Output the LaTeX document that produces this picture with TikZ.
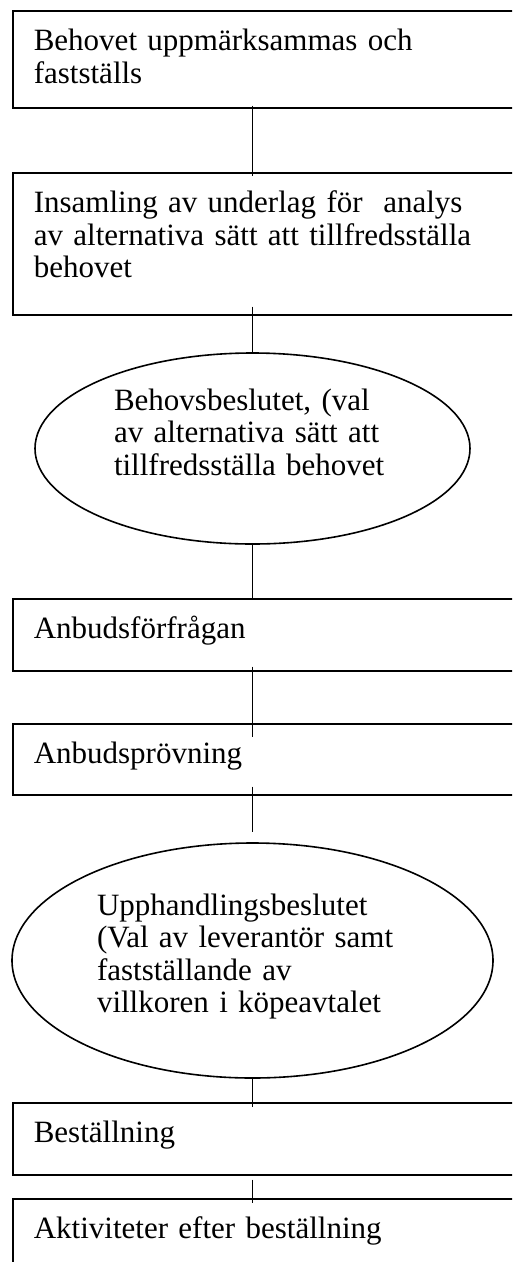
\documentclass[tikz,border=0pt]{standalone}
\usepackage{fontspec}
\setmainfont{Liberation Serif}
\usetikzlibrary{shapes.geometric}

\begin{document}
\begin{tikzpicture}[
  x=1pt, y=-1pt,
  every node/.style={font=\fontsize{31}{32.5}\selectfont},
  box/.style={draw, line width=1.6pt, anchor=north west, text width=470pt, align=left,
    inner xsep=21pt, inner ysep=0pt, text height=40pt},
  decision/.style={draw, line width=1.6pt, ellipse, align=left, inner sep=0pt, text height=25pt},
  link/.style={line width=1.6pt}
]
\useasboundingbox (0,0) rectangle (512,1262);
\clip (0,0) rectangle (512,1262);

% steps of the procurement
\node[box, text depth=57pt] (need) at (12,10) {Behovet uppmärksammas och\\fastställs};
\node[box, text depth=102pt] (collect) at (12,172) {Insamling av underlag för\ \ analys\\av alternativa sätt att tillfredsställa\\behovet};
\node[decision, text width=277pt, text depth=102pt, minimum width=435pt, minimum height=191pt] (needdec) at (252.5,448.5)
  {Behovsbeslutet, (val\\av alternativa sätt att\\tillfredsställa behovet};
\node[box, text depth=32pt] (inquiry) at (12,598) {Anbudsförfrågan};
\node[box, text depth=31pt] (review) at (12,723) {Anbudsprövning};
\node[decision, text width=311pt, text depth=116pt, minimum width=481pt, minimum height=235pt] (buydec) at (252.5,960.5)
  {Upphandlingsbeslutet\\(Val av leverantör samt\\fastställande av\\villkoren i köpeavtalet};
\node[box, text depth=32pt] (order) at (12,1102) {Beställning};
\node[box, text depth=120pt] (after) at (12,1198) {Aktiviteter efter beställning};

% connectors
\draw[link, shorten <=-3pt, shorten >=-4pt] (need.south -| needdec) -- (collect.north -| needdec);
\draw[link, shorten <=-9pt] (collect.south -| needdec) -- (needdec.north);
\draw[link] (needdec.south) -- (inquiry.north -| needdec);
\draw[link, shorten <=-5pt, shorten >=-14pt] (inquiry.south -| needdec) -- (review.north -| needdec);
\draw[link, shorten <=-9pt, shorten >=10pt] (review.south -| buydec) -- (buydec.north);
\draw[link, shorten >=-5pt] (buydec.south) -- (order.north -| buydec);
\draw[link, shorten <=4pt, shorten >=-5pt] (order.south -| buydec) -- (after.north -| buydec);

\end{tikzpicture}
\end{document}
